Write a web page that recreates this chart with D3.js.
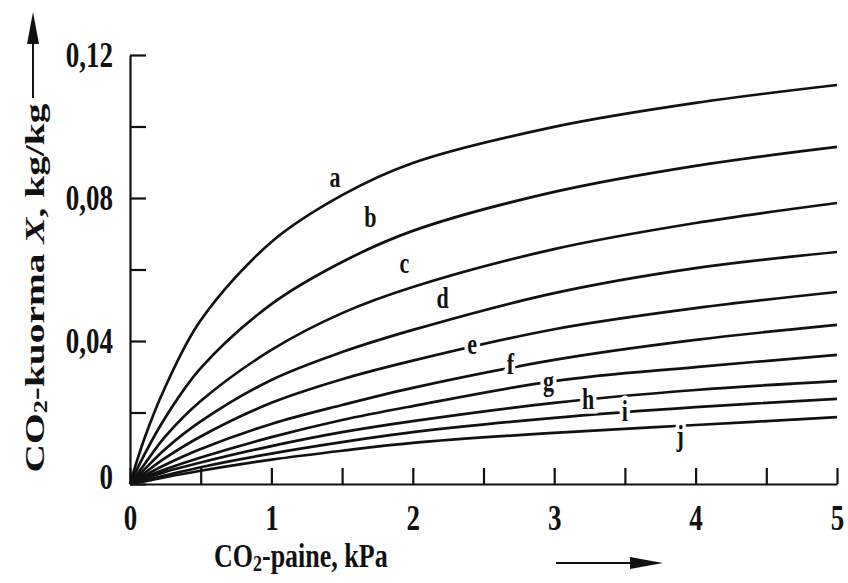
<!DOCTYPE html>
<html>
<head>
<meta charset="utf-8">
<script src="https://cdn.jsdelivr.net/npm/d3@7"></script>
<style>
  body { margin: 0; background: #fff; }
  svg { font-family: "Liberation Serif", "DejaVu Serif", serif; font-weight: bold; }
</style>
</head>
<body>
<div id="chart"></div>
<script>
// CO2 pressure, kPa
const pressure = [0, 0.1, 0.25, 0.5, 1, 1.5, 2, 3, 4, 5]
// CO2 load X, kg/kg, one list per curve
const curveA = [0, 0.0125, 0.0272, 0.0458, 0.0677, 0.0808, 0.0898, 0.0999, 0.1066, 0.1116]
const curveB = [0, 0.0081, 0.0186, 0.0324, 0.0503, 0.0621, 0.0708, 0.0817, 0.0890, 0.0943]
const curveC = [0, 0.0054, 0.0133, 0.0232, 0.0375, 0.0478, 0.0551, 0.0657, 0.0730, 0.0786]
const curveD = [0, 0.0040, 0.0098, 0.0175, 0.0291, 0.0369, 0.0431, 0.0534, 0.0604, 0.0649]
const curveE = [0, 0.0030, 0.0073, 0.0133, 0.0227, 0.0293, 0.0345, 0.0433, 0.0492, 0.0537]
const curveF = [0, 0.0023, 0.0054, 0.0098, 0.0168, 0.0221, 0.0269, 0.0347, 0.0403, 0.0445]
const curveG = [0, 0.0018, 0.0041, 0.0074, 0.0131, 0.0179, 0.0218, 0.0288, 0.0327, 0.0361]
const curveH = [0, 0.0014, 0.0034, 0.0060, 0.0106, 0.0145, 0.0176, 0.0227, 0.0263, 0.0288]
const curveI = [0, 0.0009, 0.0024, 0.0047, 0.0085, 0.0117, 0.0145, 0.0185, 0.0215, 0.0238]
const curveJ = [0, 0.0007, 0.0019, 0.0037, 0.0068, 0.0093, 0.0115, 0.0143, 0.0165, 0.0187]

const curveNames = ["a", "b", "c", "d", "e", "f", "g", "h", "i", "j"]
const curves = [curveA, curveB, curveC, curveD, curveE, curveF, curveG, curveH, curveI, curveJ]
// where each letter sits, [kPa, kg/kg]
const labelSpots = [[1.45, 0.0856], [1.70, 0.0744], [1.94, 0.0613], [2.21, 0.0515], [2.42, 0.0389],
                    [2.69, 0.0333], [2.96, 0.0285], [3.24, 0.0235], [3.50, 0.0199], [3.89, 0.0131]]

const xTicks = [0, 0.5, 1, 1.5, 2, 2.5, 3, 3.5, 4, 4.5, 5]
const xTickLabels = {0: "0", 1: "1", 2: "2", 3: "3", 4: "4", 5: "5"}
const yTicks = [0, 0.02, 0.04, 0.06, 0.08, 0.10, 0.12]
const yTickLabels = {0: "0", 0.04: "0,04", 0.08: "0,08", 0.12: "0,12"}

const width = 848, height = 583
const margin = {left: 130, top: 55, right: 11, bottom: 99}
const stretch = 1.3   // the scan is taller than wide, text looks drawn out vertically

svg = d3.select("#chart").append("svg")
    .attr("width", width)
    .attr("height", height)

x = d3.scaleLinear().domain([0, 5]).range([margin.left, width - margin.right])
y = d3.scaleLinear().domain([0, 0.12]).range([height - margin.bottom, margin.top])

// axes, ticks point inwards
xAxis = svg.append("g")
    .attr("transform", "translate(0," + y(0) + ")")
    .call(d3.axisBottom(x).tickValues(xTicks).tickSize(-16).tickSizeOuter(0)
          .tickFormat(d => xTickLabels[d] || ""))
yAxis = svg.append("g")
    .attr("transform", "translate(" + x(0) + ",0)")
    .call(d3.axisLeft(y).tickValues(yTicks).tickSize(-16).tickSizeOuter(0).tickPadding(17)
          .tickFormat(d => yTickLabels[+d.toFixed(2)] || ""))

svg.selectAll(".domain, .tick line").attr("stroke", "#111").attr("stroke-width", 2.2)
svg.selectAll(".tick text").attr("font-size", 27).attr("font-family", "Liberation Serif")
    .attr("font-weight", "bold").attr("fill", "#111")
xAxis.selectAll(".tick text")
    .attr("y", 0).attr("dy", 0)
    .attr("transform", "translate(0,46) scale(1," + stretch + ")")
yAxis.selectAll(".tick text")
    .attr("transform", d => (d == 0 ? "translate(0,-7) " : "") + "scale(1," + stretch + ")")

line = d3.line()
    .x((d, i) => x(pressure[i]))
    .y(d => y(d))
    .curve(d3.curveCatmullRom.alpha(0.5))

svg.append("g").selectAll("path")
    .data(curves)
    .join("path")
    .attr("d", line)
    .attr("fill", "none")
    .attr("stroke", "#111")
    .attr("stroke-width", 2.7)

// letters; white halo cuts the line where the letter sits on it
svg.append("g").selectAll("text")
    .data(curveNames)
    .join("text")
    .attr("transform", (d, i) => "translate(" + x(labelSpots[i][0]) + "," + y(labelSpots[i][1]) + ") scale(1," + stretch + ")")
    .attr("dy", "0.3em")
    .attr("text-anchor", "middle")
    .attr("font-size", 22)
    .attr("fill", "#111")
    .attr("stroke", "#fff")
    .attr("stroke-width", 7)
    .attr("paint-order", "stroke")
    .text(d => d)

// axis titles
xTitle = svg.append("text")
    .attr("transform", "translate(214,567) scale(1," + stretch + ")")
    .attr("font-size", 26)
    .attr("fill", "#111")
xTitle.append("tspan").text("CO")
xTitle.append("tspan").attr("font-size", 18).attr("dy", 3).text("2")
xTitle.append("tspan").attr("dy", -3).text("-paine, kPa")

yTitle = svg.append("text")
    .attr("transform", "translate(44,288) rotate(-90) scale(1.46,1)")
    .attr("text-anchor", "middle")
    .attr("font-size", 27)
    .attr("fill", "#111")
yTitle.append("tspan").text("CO")
yTitle.append("tspan").attr("font-size", 18).attr("dy", 3).text("2")
yTitle.append("tspan").attr("dy", -3).text("-kuorma ")
yTitle.append("tspan").attr("font-style", "italic").text("X")
yTitle.append("tspan").text(", kg/kg")

// arrows
svg.append("line").attr("x1", 556).attr("y1", 563).attr("x2", 640).attr("y2", 563)
    .attr("stroke", "#111").attr("stroke-width", 2)
svg.append("path").attr("d", "M663,563 L630,557 L630,569 Z").attr("fill", "#111")

svg.append("line").attr("x1", 33).attr("y1", 98).attr("x2", 33).attr("y2", 40)
    .attr("stroke", "#111").attr("stroke-width", 2)
svg.append("path").attr("d", "M33,12 L27,44 L39,44 Z").attr("fill", "#111")
</script>
</body>
</html>
